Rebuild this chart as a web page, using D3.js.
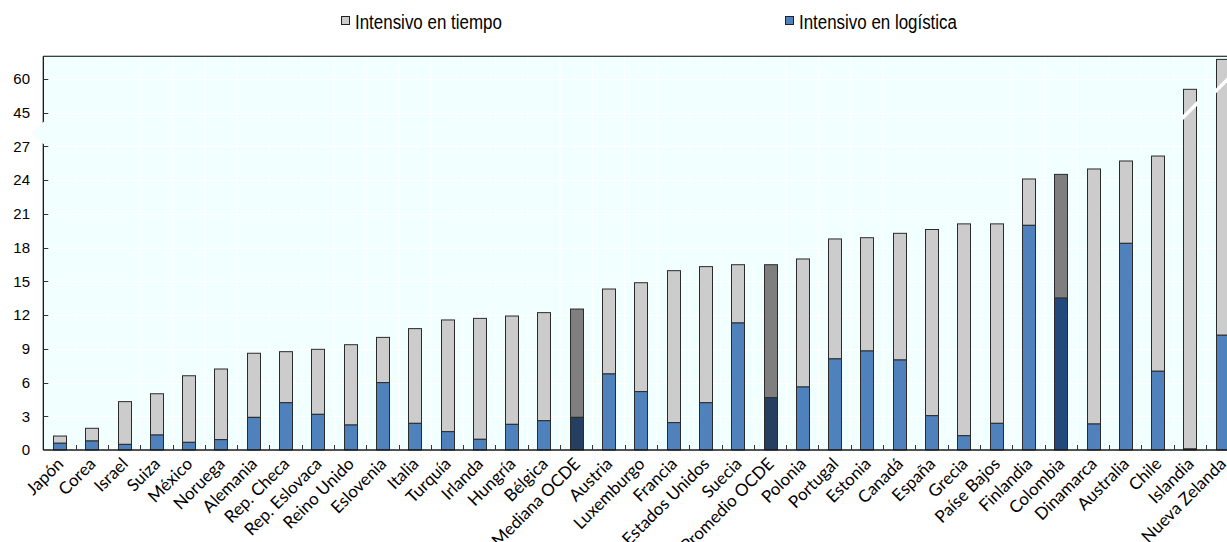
<!DOCTYPE html>
<html lang="es">
<head>
<meta charset="UTF-8">
<title>Intensivo en tiempo / Intensivo en logística</title>
<script src="https://d3js.org/d3.v7.min.js"></script>
<style>
  body { margin: 0; background: #fff; }
  svg { display: block; }
  .ylab { font-family: "Liberation Sans", Arial, sans-serif; font-size: 15px; fill: #000; }
  .xlab { font-family: Lato, "Open Sans", sans-serif; font-size: 17px; fill: #000; }
  .legend text { font-family: "Liberation Sans Narrow", "Arial Narrow", "Liberation Sans", sans-serif; font-size: 20px; fill: #000; }
</style>
</head>
<body>
<div id="chart"></div>
<script>
// data
const countries = ['Japón', 'Corea', 'Israel', 'Suiza', 'México', 'Noruega', 'Alemania', 'Rep. Checa',
  'Rep. Eslovaca', 'Reino Unido', 'Eslovenia', 'Italia', 'Turquía', 'Irlanda', 'Hungría', 'Bélgica',
  'Mediana OCDE', 'Austria', 'Luxemburgo', 'Francia', 'Estados Unidos', 'Suecia', 'Promedio OCDE',
  'Polonia', 'Portugal', 'Estonia', 'Canadá', 'España', 'Grecia', 'Paíse Bajos', 'Finlandia',
  'Colombia', 'Dinamarca', 'Australia', 'Chile', 'Islandia', 'Nueva Zelanda'];
const logistica = [0.6, 0.8, 0.5, 1.33, 0.68, 0.92, 2.9, 4.2, 3.17, 2.22, 5.99, 2.37, 1.63, 0.95, 2.28, 2.6,
  2.9, 6.76, 5.19, 2.43, 4.2, 11.29, 4.65, 5.6, 8.1, 8.8, 8.0, 3.05, 1.27, 2.37, 19.97,
  13.5, 2.31, 18.37, 7.0, 0.09, 10.2];
const tiempo = [0.64, 1.13, 3.8, 3.67, 5.92, 6.28, 5.7, 4.54, 5.78, 7.14, 4.02, 8.42, 9.93, 10.75, 9.63, 9.61,
  9.63, 7.55, 9.68, 13.51, 12.1, 5.18, 11.82, 11.38, 10.66, 10.07, 11.26, 16.55, 18.83, 17.73, 4.12,
  11.0, 22.67, 7.32, 19.13, 55.21, 58.4];
const yTicks = [0, 3, 6, 9, 12, 15, 18, 21, 24, 27, 45, 60];
const breakCountries = ['Islandia', 'Nueva Zelanda'];
const breakValues = [45.9, 57.7];
const seriesNames = ['Intensivo en tiempo', 'Intensivo en logística'];

const width = 1227, height = 542;
const plotLeft = 43.3, plotTop = 56.25, plotBottom = 450;
const step = 32.3;
const plotRight = plotLeft + step * countries.length;

const x = d3.scaleBand()
  .domain(countries)
  .range([plotLeft, plotRight])
  .paddingInner(0.6)
  .paddingOuter(0.3);

// broken axis: 27 -> 45 squeezed into one tick step
const y = d3.scaleLinear()
  .domain([0, 27, 45, 60, 70])
  .range([plotBottom, 146.25, 112.5, 78.75, plotTop]);

const colTiempo = d => d === 'Colombia' || d.includes('OCDE') ? '#7f7f7f' : '#cccccc';
const colLog = d => d === 'Colombia' ? '#21497c' : (d.includes('OCDE') ? '#243f62' : '#4f81bd');

const svg = d3.select('#chart').append('svg')
  .attr('width', width)
  .attr('height', height);

// plot background
svg.append('rect')
  .attr('x', plotLeft).attr('y', plotTop)
  .attr('width', plotRight - plotLeft).attr('height', plotBottom - plotTop)
  .attr('fill', '#f1ffff');

// white grid
const bounds = d3.range(1, countries.length).map(i => plotLeft + i * step);
svg.append('g').selectAll('line.v')
  .data(bounds).join('line')
  .attr('x1', d => d).attr('x2', d => d)
  .attr('y1', plotTop).attr('y2', plotBottom)
  .attr('stroke', '#fff').attr('stroke-width', 1);
svg.append('g').selectAll('line.h')
  .data(yTicks.slice(1)).join('line')
  .attr('x1', plotLeft).attr('x2', plotRight)
  .attr('y1', d => Math.round(y(d)) + 0.5).attr('y2', d => Math.round(y(d)) + 0.5)
  .attr('stroke', '#fff').attr('stroke-width', 1);

// bars
const rows = countries.map((c, i) => ({ c, log: logistica[i], tie: tiempo[i] }));
const bx = d => Math.round(x(d.c)) + 0.5;
const bw = Math.round(x.bandwidth());

const bars = svg.append('g');
bars.selectAll('rect.tie')
  .data(rows).join('rect')
  .attr('x', bx)
  .attr('width', bw)
  .attr('y', d => y(d.log + d.tie))
  .attr('height', d => y(d.log) - y(d.log + d.tie))
  .attr('fill', d => colTiempo(d.c))
  .attr('stroke', '#2b2b2b').attr('stroke-width', 1);
bars.selectAll('rect.log')
  .data(rows).join('rect')
  .attr('x', bx)
  .attr('width', bw)
  .attr('y', d => y(d.log))
  .attr('height', d => y(0) - y(d.log))
  .attr('fill', d => colLog(d.c))
  .attr('stroke', '#2b2b2b').attr('stroke-width', 1);

// white break stripes on the two tall bars
svg.append('g').selectAll('polygon')
  .data(breakCountries.map((c, i) => ({ c, v: breakValues[i] })))
  .join('polygon')
  .attr('fill', '#fff')
  .attr('points', d => {
    const x0 = Math.round(x(d.c)) - 1, x1 = x0 + bw + 3;
    const yc = y(d.v), h = (x1 - x0) / 2, t = 2.4;
    return [[x0, yc + h - t], [x1, yc - h - t], [x1, yc - h + t], [x0, yc + h + t]].join(' ');
  });

// frame and axes
svg.append('line')
  .attr('x1', plotLeft).attr('x2', width)
  .attr('y1', plotTop).attr('y2', plotTop)
  .attr('stroke', '#000').attr('stroke-width', 1.2);
svg.append('line')
  .attr('x1', plotLeft).attr('x2', width)
  .attr('y1', plotBottom).attr('y2', plotBottom)
  .attr('stroke', '#1a1a1a').attr('stroke-width', 1.5);
svg.append('line')
  .attr('x1', plotLeft).attr('x2', plotLeft)
  .attr('y1', plotTop).attr('y2', plotBottom)
  .attr('stroke', '#000').attr('stroke-width', 1.2);

// y ticks (inside) and labels
const yAxis = svg.append('g');
yAxis.selectAll('line')
  .data(yTicks.slice(1)).join('line')
  .attr('x1', plotLeft).attr('x2', plotLeft + 5)
  .attr('y1', d => Math.round(y(d)) + 0.5).attr('y2', d => Math.round(y(d)) + 0.5)
  .attr('stroke', '#333').attr('stroke-width', 1);
yAxis.selectAll('text')
  .data(yTicks).join('text')
  .attr('class', 'ylab')
  .attr('x', 30)
  .attr('y', d => y(d))
  .attr('dy', '0.36em')
  .attr('text-anchor', 'end')
  .text(d => d);

// axis break notch on the left
svg.append('polygon')
  .attr('points', [[44.5, 121], [31.5, 133], [44.5, 145]].join(' '))
  .attr('fill', '#f1ffff');

// x ticks at category boundaries, pointing up
svg.append('g').selectAll('line')
  .data(bounds).join('line')
  .attr('x1', d => Math.round(d) + 0.5).attr('x2', d => Math.round(d) + 0.5)
  .attr('y1', plotBottom).attr('y2', plotBottom - 5)
  .attr('stroke', '#333').attr('stroke-width', 1);

// category labels
svg.append('g').selectAll('text')
  .data(countries).join('text')
  .attr('class', 'xlab')
  .attr('text-anchor', 'end')
  .attr('transform', d => `translate(${x(d) + x.bandwidth() / 2 + 5},${plotBottom + 15}) rotate(-45)`)
  .text(d => d);

// legend (condensed text, like the narrow face of the original)
const legend = svg.append('g').attr('class', 'legend');
const legendX = [341, 785];
const legendFill = ['#cccccc', '#4f81bd'];
seriesNames.forEach((name, i) => {
  legend.append('rect')
    .attr('x', legendX[i] + 0.5).attr('y', 16.5)
    .attr('width', 8).attr('height', 8)
    .attr('fill', legendFill[i])
    .attr('stroke', '#222').attr('stroke-width', 1);
  const t = legend.append('text')
    .attr('transform', `translate(${legendX[i] + 14},29)`)
    .text(name);
  const w = t.node().getComputedTextLength();
  if (w > 0 && name.length) {
    const target = i === 0 ? 147 : 158;
    if (w > target + 2) t.attr('transform', `translate(${legendX[i] + 14},29) scale(${target / w},1)`);
  }
});
</script>
</body>
</html>
